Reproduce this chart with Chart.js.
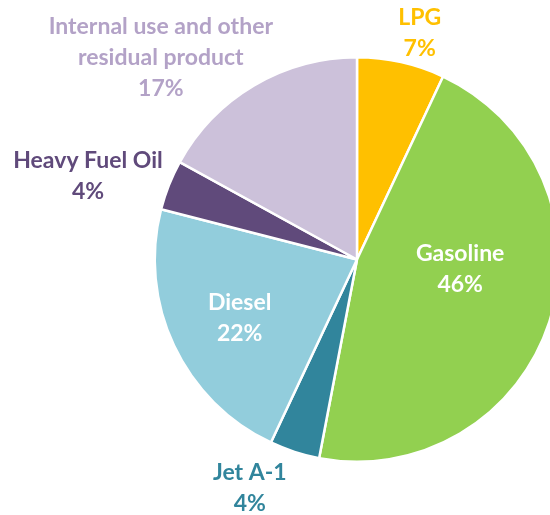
<!DOCTYPE html>
<html>
<head>
<meta charset="utf-8">
<script src="https://cdn.jsdelivr.net/npm/chart.js@4/dist/chart.umd.min.js"></script>
<style>
  html, body { margin: 0; padding: 0; background: #fff; overflow: hidden; }
  .Frame { width: 550px; height: 515px; overflow: hidden; position: relative; }
  .Wrap { width: 716px; height: 515px; position: absolute; left: -1px; top: 0; }
</style>
</head>
<body>
<div class="Frame"><div class="Wrap"><canvas id="ProductPie"></canvas></div></div>
<script>
const products = ['LPG', 'Gasoline', 'Jet A-1', 'Diesel', 'Heavy Fuel Oil', 'Internal use and other residual product'];
const shares = [7, 46, 4, 22, 4, 17];

const sliceColors = ['#FFC000', '#92D050', '#31859C', '#92CDDC', '#604A7B', '#CCC1DA'];
// label text lines, colour and where it sits (offset from centre, in radius units)
const labelLines = [
  ['LPG'],
  ['Gasoline'],
  ['Jet A-1'],
  ['Diesel'],
  ['Heavy Fuel Oil'],
  ['Internal use and other', 'residual product']
];
const labelColors = ['#FFC000', '#FFFFFF', '#31859C', '#FFFFFF', '#604A7B', '#B3A2C7'];
const labelSpots = [
  [0.31, -1.12], [0.51, 0.045], [-0.53, 1.13],
  [-0.58, 0.29], [-1.33, -0.41], [-0.97, -1.0]
];

const pieLabels = {
  id: 'pieLabels',
  afterDatasetsDraw(chart) {
    const ctx = chart.ctx;
    const meta = chart.getDatasetMeta(0);
    const lineH = 31;
    ctx.save();
    ctx.font = 'bold 23px Lato, "Open Sans", sans-serif';
    ctx.textAlign = 'center';
    ctx.textBaseline = 'middle';
    meta.data.forEach((arc, i) => {
      const r = arc.outerRadius;
      const cx = arc.x + labelSpots[i][0] * r;
      const cy = arc.y + labelSpots[i][1] * r;
      const lines = labelLines[i].concat([shares[i] + '%']);
      const top = cy - (lines.length - 1) * lineH / 2;
      ctx.fillStyle = labelColors[i];
      lines.forEach((t, k) => ctx.fillText(t, cx, top + k * lineH));
    });
    ctx.restore();
  }
};

new Chart(document.getElementById('ProductPie'), {
  type: 'pie',
  data: {
    labels: products,
    datasets: [{
      data: shares,
      backgroundColor: sliceColors,
      borderColor: '#FFFFFF',
      borderWidth: 2.5
    }]
  },
  options: {
    responsive: true,
    maintainAspectRatio: false,
    animation: false,
    layout: { padding: { top: 56, bottom: 52, left: 0, right: 0 } },
    plugins: {
      legend: { display: false },
      tooltip: { enabled: false }
    }
  },
  plugins: [pieLabels]
});
</script>
</body>
</html>
